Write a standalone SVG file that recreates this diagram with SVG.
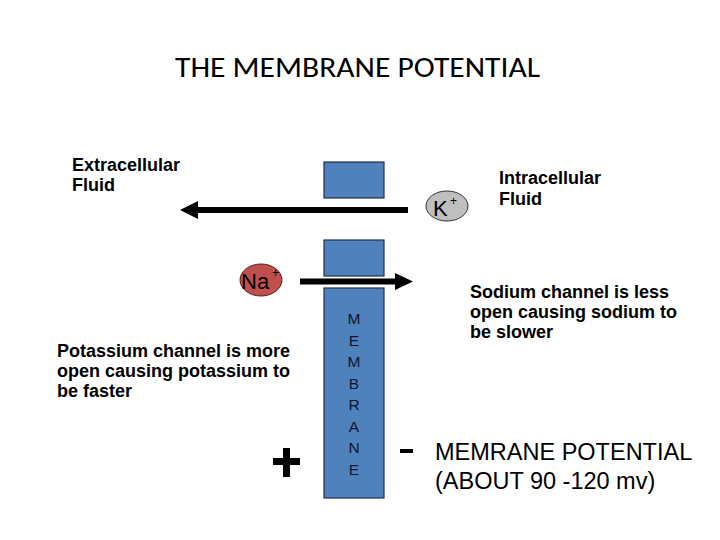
<svg xmlns="http://www.w3.org/2000/svg" width="720" height="540" viewBox="0 0 720 540">
<style>
  .lbl { font-family: "Liberation Sans", Arial, sans-serif; font-size: 18px; font-weight: bold; fill: #000; }
  .big { font-family: "Liberation Sans", Arial, sans-serif; font-size: 23.5px; fill: #000; }
  .mem { fill: #4F81BD; stroke: #1F2F4F; stroke-width: 1.2; }
  .mtxt { font-family: "Liberation Sans", Arial, sans-serif; font-size: 15.5px; fill: #0d1530; text-anchor: middle; }
  .ion { font-family: "Liberation Sans", Arial, sans-serif; font-size: 22px; fill: #000; }
  .sup { font-family: "Liberation Sans", Arial, sans-serif; font-size: 12px; fill: #000; }
  .bar { stroke: #000; stroke-width: 6; }
</style>
<rect width="720" height="540" fill="#fff"/>
<text x="175" y="77" font-family="Carlito, 'Liberation Sans', Arial, sans-serif" font-size="28" textLength="365" lengthAdjust="spacingAndGlyphs" fill="#000">THE MEMBRANE POTENTIAL</text>

<g id="membrane">
  <rect class="mem" x="324" y="162" width="60" height="36"/>
  <rect class="mem" x="324" y="240" width="60" height="36"/>
  <rect class="mem" x="324" y="288" width="60" height="210"/>
  <text class="mtxt" x="354" y="324">M</text>
  <text class="mtxt" x="354" y="345.5">E</text>
  <text class="mtxt" x="354" y="367">M</text>
  <text class="mtxt" x="354" y="388.5">B</text>
  <text class="mtxt" x="354" y="410">R</text>
  <text class="mtxt" x="354" y="431.5">A</text>
  <text class="mtxt" x="354" y="453">N</text>
  <text class="mtxt" x="354" y="475">E</text>
</g>

<g id="connectors">
  <line class="bar" x1="196" y1="210" x2="408" y2="210"/>
  <polygon points="180,210 198,201 198,219" fill="#000"/>
  <line class="bar" x1="300" y1="281.5" x2="397" y2="281.5"/>
  <polygon points="413,281.5 395,273 395,290" fill="#000"/>
</g>

<g id="extracellular">
  <text class="lbl" x="72" y="171">Extracellular</text>
  <text class="lbl" x="72" y="191">Fluid</text>
</g>

<g id="intracellular">
  <text class="lbl" x="499" y="184">Intracellular</text>
  <text class="lbl" x="499" y="205">Fluid</text>
</g>

<g id="k-ion">
  <ellipse cx="447" cy="206" rx="21" ry="15" fill="#BFBFBF" stroke="#333" stroke-width="1"/>
  <text class="ion" x="433" y="216" font-size="23">K</text>
  <text class="sup" x="450" y="205">+</text>
</g>

<g id="na-ion">
  <ellipse cx="261" cy="280" rx="21" ry="16" fill="#C0504D" stroke="#5a1f1d" stroke-width="1"/>
  <text class="ion" x="241" y="289">Na</text>
  <text class="sup" x="272" y="277">+</text>
</g>

<g id="potassium-note">
  <text class="lbl" x="57" y="357">Potassium channel is more</text>
  <text class="lbl" x="57" y="377">open causing potassium to</text>
  <text class="lbl" x="57" y="397">be faster</text>
</g>

<g id="sodium-note">
  <text class="lbl" x="470" y="298">Sodium channel is less</text>
  <text class="lbl" x="470" y="318">open causing sodium to</text>
  <text class="lbl" x="470" y="338">be slower</text>
</g>

<g id="plus">
  <rect x="273" y="458" width="27" height="7" fill="#000"/>
  <rect x="283" y="448" width="7" height="29" fill="#000"/>
</g>

<g id="potential">
  <rect x="400" y="449" width="13" height="4" fill="#000"/>
  <text class="big" x="435" y="460">MEMRANE POTENTIAL</text>
  <text class="big" x="435" y="489">(ABOUT 90 -120 mv)</text>
</g>
</svg>
